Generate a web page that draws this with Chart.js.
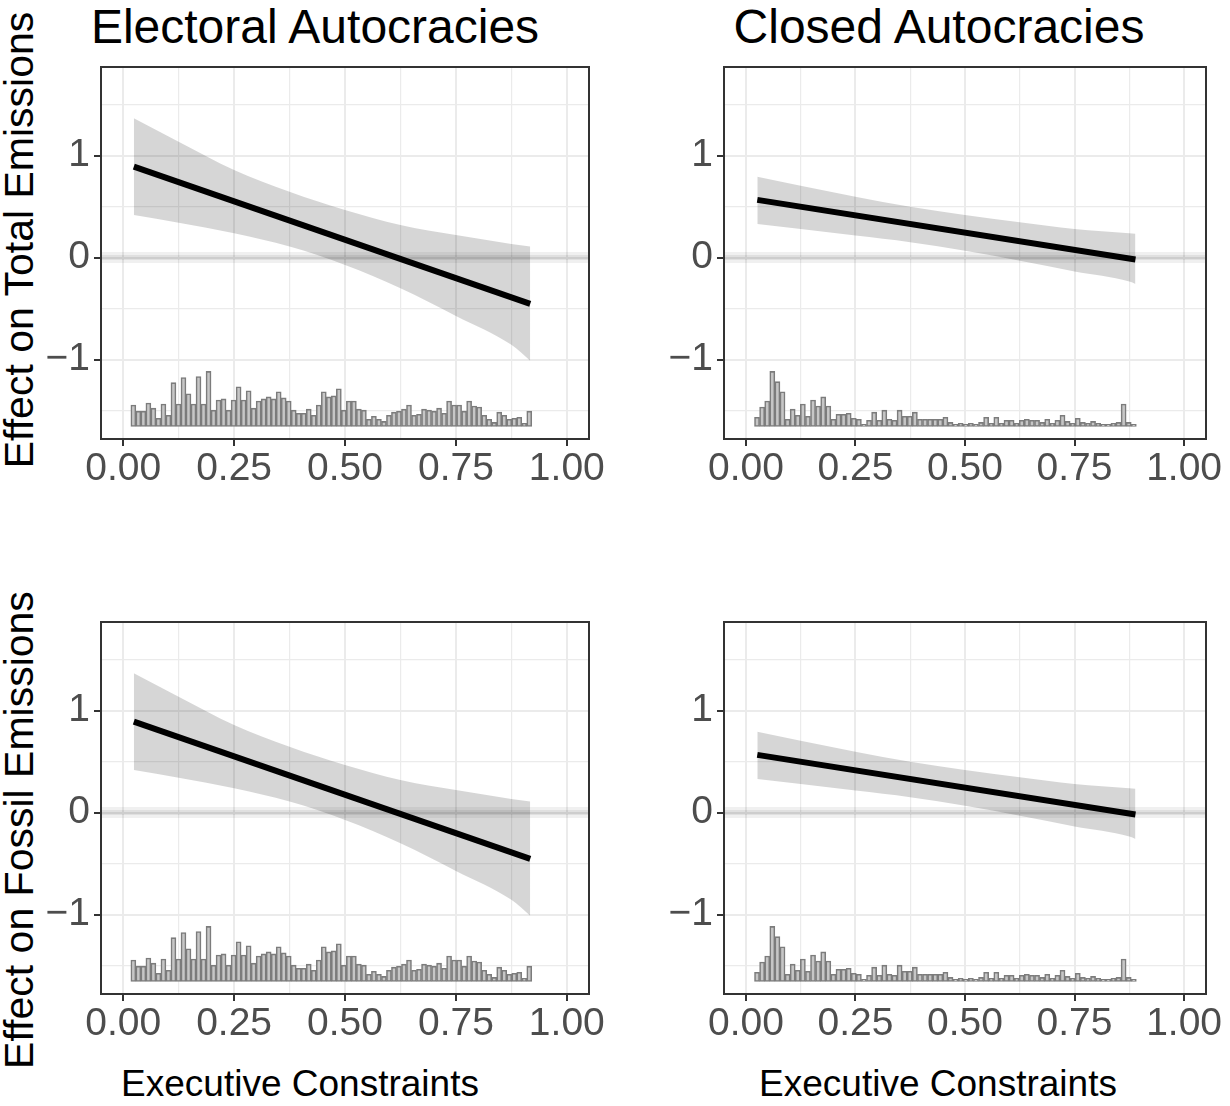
<!DOCTYPE html>
<html lang="en">
<head>
  <meta charset="UTF-8">
  <title>Executive Constraints</title>
  <script src="https://cdn.jsdelivr.net/npm/chart.js"></script>
  <style>
    body { margin: 0; background: #fff; width: 1230px; height: 1106px; position: relative; overflow: hidden;
           font-family: "Liberation Sans", Arial, sans-serif; }
    canvas { position: absolute; }
    .txt { position: absolute; white-space: nowrap; line-height: 1; color: #000; transform: translate(-50%, -50%); }
    .titulo { font-size: 48px; }
    .eixo { font-size: 37px; }
    .vert { font-size: 41px; transform: translate(-50%, -50%) rotate(-90deg); }
  </style>
</head>
<body>

  <!-- titulos dos paineis -->
  <div class="txt titulo" style="left:315px; top:27px;">Electoral Autocracies</div>
  <div class="txt titulo" style="left:939px; top:27px;">Closed Autocracies</div>

  <!-- titulos dos eixos -->
  <div class="txt vert" style="left:19px; top:240px;">Effect on Total Emissions</div>
  <div class="txt vert" style="left:19px; top:830px;">Effect on Fossil Emissions</div>
  <div class="txt eixo" style="left:300px; top:1083px;">Executive Constraints</div>
  <div class="txt eixo" style="left:938px; top:1083px;">Executive Constraints</div>

  <canvas id="totalEA" width="610" height="440" style="left:30px; top:60px;"></canvas>
  <canvas id="totalCA" width="577" height="440" style="left:653px; top:60px;"></canvas>
  <canvas id="fossilEA" width="610" height="440" style="left:30px; top:615px;"></canvas>
  <canvas id="fossilCA" width="577" height="440" style="left:653px; top:615px;"></canvas>

<script>
// eixos
const xLo = -0.05, xHi = 1.05;
const yLo = -1.78, yHi = 1.87;
const xTicks = [0, 0.25, 0.5, 0.75, 1];
const xTickLabels = ['0.00', '0.25', '0.50', '0.75', '1.00'];
const xMinor = [0.125, 0.375, 0.625, 0.875];
const yTicks = [-1, 0, 1];
const yTickLabels = ['\u22121', '0', '1'];
const yMinor = [-1.5, -0.5, 0.5, 1.5];

// electoral autocracies: efeito marginal + intervalo
const eaX = [0.024, 0.125, 0.25, 0.375, 0.5, 0.625, 0.75, 0.875, 0.9175];
const eaUpper = [1.367, 1.137, 0.86, 0.647, 0.468, 0.32, 0.222, 0.134, 0.108];
const eaLower = [0.419, 0.343, 0.239, 0.108, -0.072, -0.30, -0.572, -0.856, -1.013];
const eaLineX = [0.024, 0.9175];
const eaLine = [0.892, -0.454];

// closed autocracies
const caX = [0.026, 0.125, 0.25, 0.375, 0.5, 0.625, 0.75, 0.875, 0.889];
const caUpper = [0.794, 0.706, 0.598, 0.5, 0.419, 0.347, 0.281, 0.239, 0.233];
const caLower = [0.33, 0.281, 0.216, 0.151, 0.066, -0.032, -0.137, -0.235, -0.258];
const caLineX = [0.026, 0.889];
const caLine = [0.566, -0.018];

// histogramas (altura das barras, em unidades do eixo y)
const histBase = -1.657;
const eaHistFrom = 0.0173, eaHistTo = 0.921;
const eaHist = [0.21, 0.15, 0.15, 0.23, 0.18, 0.08, 0.22, 0.11, 0.43, 0.22,
                0.48, 0.32, 0.22, 0.49, 0.22, 0.54, 0.16, 0.26, 0.27, 0.16,
                0.26, 0.39, 0.26, 0.35, 0.18, 0.25, 0.27, 0.29, 0.27, 0.34,
                0.28, 0.25, 0.16, 0.13, 0.13, 0.17, 0.11, 0.21, 0.34, 0.29,
                0.30, 0.37, 0.16, 0.25, 0.25, 0.17, 0.16, 0.07, 0.10, 0.07,
                0.05, 0.11, 0.14, 0.15, 0.17, 0.21, 0.11, 0.12, 0.17, 0.16,
                0.15, 0.18, 0.13, 0.25, 0.21, 0.21, 0.15, 0.25, 0.20, 0.19,
                0.11, 0.07, 0.04, 0.14, 0.11, 0.07, 0.08, 0.09, 0.03, 0.15];
const caHistFrom = 0.0196, caHistTo = 0.891;
const caHist = [0.09, 0.19, 0.25, 0.54, 0.44, 0.34, 0.07, 0.17, 0.11, 0.22,
                0.10, 0.26, 0.20, 0.29, 0.20, 0.07, 0.12, 0.12, 0.13, 0.08,
                0.07, 0.02, 0.06, 0.14, 0.06, 0.16, 0.07, 0.06, 0.16, 0.10,
                0.10, 0.14, 0.07, 0.07, 0.07, 0.07, 0.07, 0.09, 0.04, 0.02,
                0.03, 0.02, 0.03, 0.02, 0.04, 0.09, 0.03, 0.09, 0.03, 0.06,
                0.06, 0.03, 0.06, 0.07, 0.06, 0.06, 0.04, 0.07, 0.03, 0.06,
                0.11, 0.05, 0.03, 0.08, 0.04, 0.03, 0.05, 0.03, 0.02, 0.02,
                0.03, 0.04, 0.22, 0.04, 0.02];

Chart.defaults.font.family = '"Liberation Sans", Arial, sans-serif';

// moldura do painel (por cima de tudo)
const moldura = {
  id: 'moldura',
  afterDatasetsDraw(chart) {
    const { ctx, chartArea: a } = chart;
    ctx.save();
    ctx.strokeStyle = '#333333';
    ctx.lineWidth = 2;
    ctx.strokeRect(a.left, a.top, a.right - a.left, a.bottom - a.top);
    ctx.restore();
  }
};

function pontos(xs, ys) {
  return xs.map((v, i) => ({ x: v, y: ys[i] }));
}

function painel(id, xs, upper, lower, lineX, line, hist, hFrom, hTo, padRight) {
  const w = (hTo - hFrom) / hist.length;
  const barras = hist.map((h, i) => ({ x: hFrom + w * (i + 0.5), y: [histBase, histBase + h] }));
  const isMajorX = v => xTicks.indexOf(v) >= 0;
  const isMajorY = v => yTicks.indexOf(v) >= 0;

  new Chart(document.getElementById(id), {
    type: 'line',
    data: {
      datasets: [
        { label: 'efeito', data: pontos(lineX, line), borderColor: '#000', borderWidth: 6,
          pointRadius: 0, fill: false, order: 0 },
        { label: 'zero', data: [{ x: xLo, y: 0 }, { x: xHi, y: 0 }], borderColor: 'rgba(0,0,0,0.06)',
          borderWidth: 11, pointRadius: 0, fill: false, order: 1 },
        { label: 'zero2', data: [{ x: xLo, y: 0 }, { x: xHi, y: 0 }], borderColor: 'rgba(0,0,0,0.07)',
          borderWidth: 5, pointRadius: 0, fill: false, order: 1 },
        { label: 'ic sup', data: pontos(xs, upper), borderWidth: 0, borderColor: 'rgba(0,0,0,0)',
          backgroundColor: 'rgba(0,0,0,0.16)', fill: '+1', pointRadius: 0,
          cubicInterpolationMode: 'monotone', order: 2 },
        { label: 'ic inf', data: pontos(xs, lower), borderWidth: 0, borderColor: 'rgba(0,0,0,0)',
          fill: false, pointRadius: 0, cubicInterpolationMode: 'monotone', order: 2 },
        { type: 'bar', label: 'hist', data: barras, backgroundColor: '#c6c6c6', borderColor: '#7c7c7c',
          borderWidth: 1.6, borderSkipped: false, barPercentage: 1, categoryPercentage: 1,
          grouped: false, order: 3 }
      ]
    },
    options: {
      responsive: false,
      animation: false,
      devicePixelRatio: 1,
      layout: { padding: { top: 7, right: padRight, left: 0, bottom: 0 } },
      plugins: { legend: { display: false }, tooltip: { enabled: false } },
      scales: {
        x: {
          type: 'linear', min: xLo, max: xHi, offset: false,
          afterBuildTicks: s => { s.ticks = xTicks.concat(xMinor).sort((a, b) => a - b).map(v => ({ value: v })); },
          afterFit: s => { s.height = 61; s.paddingLeft = 0; s.paddingRight = 0; },
          ticks: {
            autoSkip: false, maxRotation: 0, padding: 0, color: '#4d4d4d',
            font: { size: 39 },
            callback: v => { const k = xTicks.indexOf(v); return k < 0 ? '' : xTickLabels[k]; }
          },
          grid: {
            offset: false,
            color: '#ebebeb',
            lineWidth: c => (c.tick && isMajorX(c.tick.value)) ? 2 : 1.2,
            tickLength: 7, tickWidth: 2,
            tickColor: c => (c.tick && isMajorX(c.tick.value)) ? '#333333' : 'rgba(0,0,0,0)'
          },
          border: { display: false }
        },
        y: {
          type: 'linear', min: yLo, max: yHi,
          afterBuildTicks: s => { s.ticks = yTicks.concat(yMinor).sort((a, b) => a - b).map(v => ({ value: v })); },
          afterFit: s => { s.width = 71; s.paddingTop = 0; s.paddingBottom = 0; },
          ticks: {
            autoSkip: false, padding: 4, color: '#4d4d4d',
            font: { size: 39 },
            callback: v => { const k = yTicks.indexOf(v); return k < 0 ? '' : yTickLabels[k]; }
          },
          grid: {
            offset: false,
            color: '#ebebeb',
            lineWidth: c => (c.tick && isMajorY(c.tick.value)) ? 2 : 1.2,
            tickLength: 7, tickWidth: 2,
            tickColor: c => (c.tick && isMajorY(c.tick.value)) ? '#333333' : 'rgba(0,0,0,0)'
          },
          border: { display: false }
        }
      }
    },
    plugins: [moldura]
  });
}

// linha de cima: emissões totais; linha de baixo: fósseis (leitura igual no gráfico)
painel('totalEA', eaX, eaUpper, eaLower, eaLineX, eaLine, eaHist, eaHistFrom, eaHistTo, 51);
painel('totalCA', caX, caUpper, caLower, caLineX, caLine, caHist, caHistFrom, caHistTo, 24);
painel('fossilEA', eaX, eaUpper, eaLower, eaLineX, eaLine, eaHist, eaHistFrom, eaHistTo, 51);
painel('fossilCA', caX, caUpper, caLower, caLineX, caLine, caHist, caHistFrom, caHistTo, 24);
</script>
</body>
</html>
